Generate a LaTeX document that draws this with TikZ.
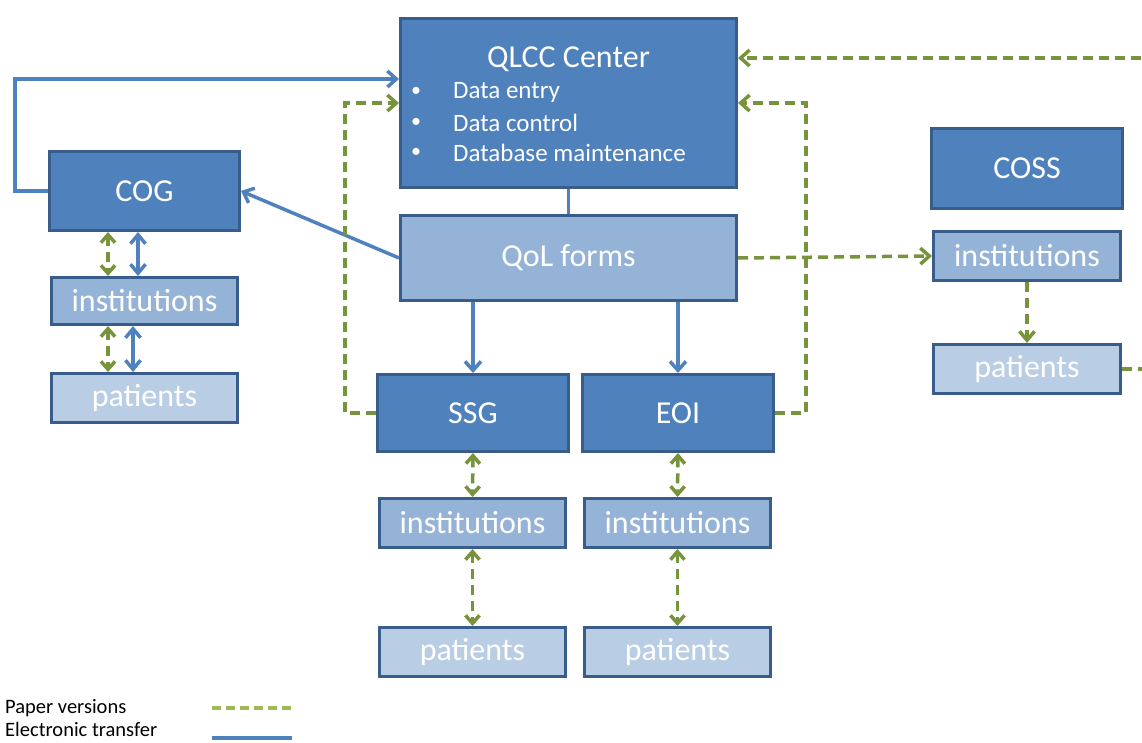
\documentclass[tikz,border=0pt]{standalone}
\usepackage{fontspec}
\setmainfont{Carlito}
\usetikzlibrary{arrows.meta,calc}
\definecolor{dkfill}{HTML}{4F81BD}
\definecolor{mdfill}{HTML}{95B3D7}
\definecolor{ltfill}{HTML}{B9CDE5}
\definecolor{bordc}{HTML}{385D8A}
\definecolor{grn}{HTML}{77933C}
\definecolor{lgrn}{HTML}{9BBB59}
\definecolor{blu}{HTML}{4F81BD}
\tikzset{
  blk/.style={draw=bordc, line width=3pt, text=white, inner sep=0pt, font=\fontsize{32}{38}\selectfont},
  dkbox/.style={blk, fill=dkfill},
  mdbox/.style={blk, fill=mdfill},
  ltbox/.style={blk, fill=ltfill},
  eline/.style={draw=blu, line width=3.5pt},
  pline/.style={draw=grn, line width=3.5pt, dash pattern=on 10pt off 6pt},
  btxt/.style={text=white, inner sep=0pt, font=\fontsize{25}{30}\selectfont},
  lgtxt/.style={text=black, inner sep=0pt, anchor=west, font=\fontsize{20.5}{24}\selectfont}
}
\begin{document}
\begin{tikzpicture}[x=1pt,y=-1pt]
\useasboundingbox (0,0) rectangle (1142,743);
\clip (0,0) rectangle (1142,743);
% boxes
\node[dkbox, minimum width=336pt, minimum height=169pt] (qlcc) at (568.5,103) {};
\node[btxt, font=\fontsize{32}{38}\selectfont] (qlcct) at (568.5,59) {QLCC Center};
\node[btxt, anchor=west, font=\fontsize{20}{24}\selectfont] (b1) at (411,92) {•};
\node[btxt, anchor=west] (b1t) at (453,92) {Data entry};
\node[btxt, anchor=west, font=\fontsize{20}{24}\selectfont] (b2) at (411,123) {•};
\node[btxt, anchor=west] (b2t) at (453,123) {Data control};
\node[btxt, anchor=west, font=\fontsize{20}{24}\selectfont] (b3) at (411,153) {•};
\node[btxt, anchor=west] (b3t) at (453,153) {Database maintenance};

\node[dkbox, minimum width=190pt, minimum height=79pt] (cog) at (144.5,191) {COG};
\node[mdbox, minimum width=186pt, minimum height=47pt] (icog) at (144.5,301) {institutions};
\node[ltbox, minimum width=186pt, minimum height=49pt] (pcog) at (144.5,398) {patients};

\node[mdbox, minimum width=336pt, minimum height=85pt] (qol) at (568.5,258) {QoL forms};

\node[dkbox, minimum width=191pt, minimum height=77pt] (ssg) at (473,413) {SSG};
\node[dkbox, minimum width=191pt, minimum height=77pt] (eoi) at (678,413) {EOI};
\node[mdbox, minimum width=186pt, minimum height=49pt] (issg) at (472.5,523) {institutions};
\node[mdbox, minimum width=186pt, minimum height=49pt] (ieoi) at (677.5,523) {institutions};
\node[ltbox, minimum width=186pt, minimum height=49pt] (pssg) at (472.5,652) {patients};
\node[ltbox, minimum width=186pt, minimum height=49pt] (peoi) at (677.5,652) {patients};

\node[dkbox, minimum width=191pt, minimum height=80pt] (coss) at (1027,168.5) {COSS};
\node[mdbox, minimum width=187pt, minimum height=49pt] (icoss) at (1027,256) {institutions};
\node[ltbox, minimum width=187pt, minimum height=49pt] (pcoss) at (1027,369) {patients};

% electronic connectors
\draw[eline, -{Straight Barb[length=9pt,width=16pt]}] (cog.west) -- ++(-33,0) |- ([yshift=24pt]qlcc.west);
\draw[eline, -{Straight Barb[length=9pt,width=16pt]}] (qol.west) -- (cog.east);
\draw[eline] (qlcc.south) -- (qol.north);
\draw[eline, -{Straight Barb[length=9pt,width=16pt]}] (qol.south -| ssg.north) -- (ssg.north);
\draw[eline, -{Straight Barb[length=9pt,width=16pt]}] (qol.south -| eoi.north) -- (eoi.north);
\draw[eline, {Straight Barb[length=9pt,width=15pt]}-{Straight Barb[length=9pt,width=15pt]}] ([xshift=-6.5pt]cog.south) -- ([xshift=-6.5pt]icog.north);
\draw[eline, {Straight Barb[length=9pt,width=15pt]}-{Straight Barb[length=9pt,width=15pt]}] ([xshift=-11.5pt]icog.south) -- ([xshift=-11.5pt]pcog.north);

% paper connectors
\draw[pline, -{Straight Barb[length=9pt,width=16pt]}] (ssg.west) -- ++(-31,0) |- (qlcc.west);
\draw[pline, -{Straight Barb[length=9pt,width=16pt]}] (eoi.east) -- ++(31,0) |- (qlcc.east);
\coordinate (offr) at (1160,369);
\draw[pline, -{Straight Barb[length=9pt,width=16pt]}] (pcoss.east) -- (offr) |- ([yshift=45pt]qlcc.east);
\draw[pline, -{Straight Barb[length=9pt,width=16pt]}] (qol.east) -- (icoss.west);
\draw[pline, -{Straight Barb[length=9pt,width=15pt]}] (icoss.south) -- (pcoss.north);
\draw[pline, {Straight Barb[length=8pt,width=14pt]}-{Straight Barb[length=8pt,width=14pt]}] ([xshift=-36.5pt]cog.south) -- ([xshift=-36.5pt]icog.north);
\draw[pline, {Straight Barb[length=8pt,width=14pt]}-{Straight Barb[length=8pt,width=14pt]}] ([xshift=-36.5pt]icog.south) -- ([xshift=-36.5pt]pcog.north);
\draw[pline, {Straight Barb[length=8pt,width=14pt]}-{Straight Barb[length=8pt,width=14pt]}] (ssg.south) -- (issg.north);
\draw[pline, {Straight Barb[length=8pt,width=14pt]}-{Straight Barb[length=8pt,width=14pt]}] (issg.south) -- (pssg.north);
\draw[pline, {Straight Barb[length=8pt,width=14pt]}-{Straight Barb[length=8pt,width=14pt]}] (eoi.south) -- (ieoi.north);
\draw[pline, {Straight Barb[length=8pt,width=14pt]}-{Straight Barb[length=8pt,width=14pt]}] (ieoi.south) -- (peoi.north);

% legend
\node[lgtxt] (lp) at (5,708) {Paper versions};
\node[lgtxt] (le) at (5,729) {Electronic transfer};
\coordinate (lpa) at (212,708);
\coordinate (lpb) at (291,708);
\coordinate (lea) at (212,738);
\coordinate (leb) at (292,738);
\draw[draw=lgrn, line width=3.5pt, dash pattern=on 9pt off 5pt] (lpa) -- (lpb);
\draw[eline] (lea) -- (leb);
\end{tikzpicture}
\end{document}
